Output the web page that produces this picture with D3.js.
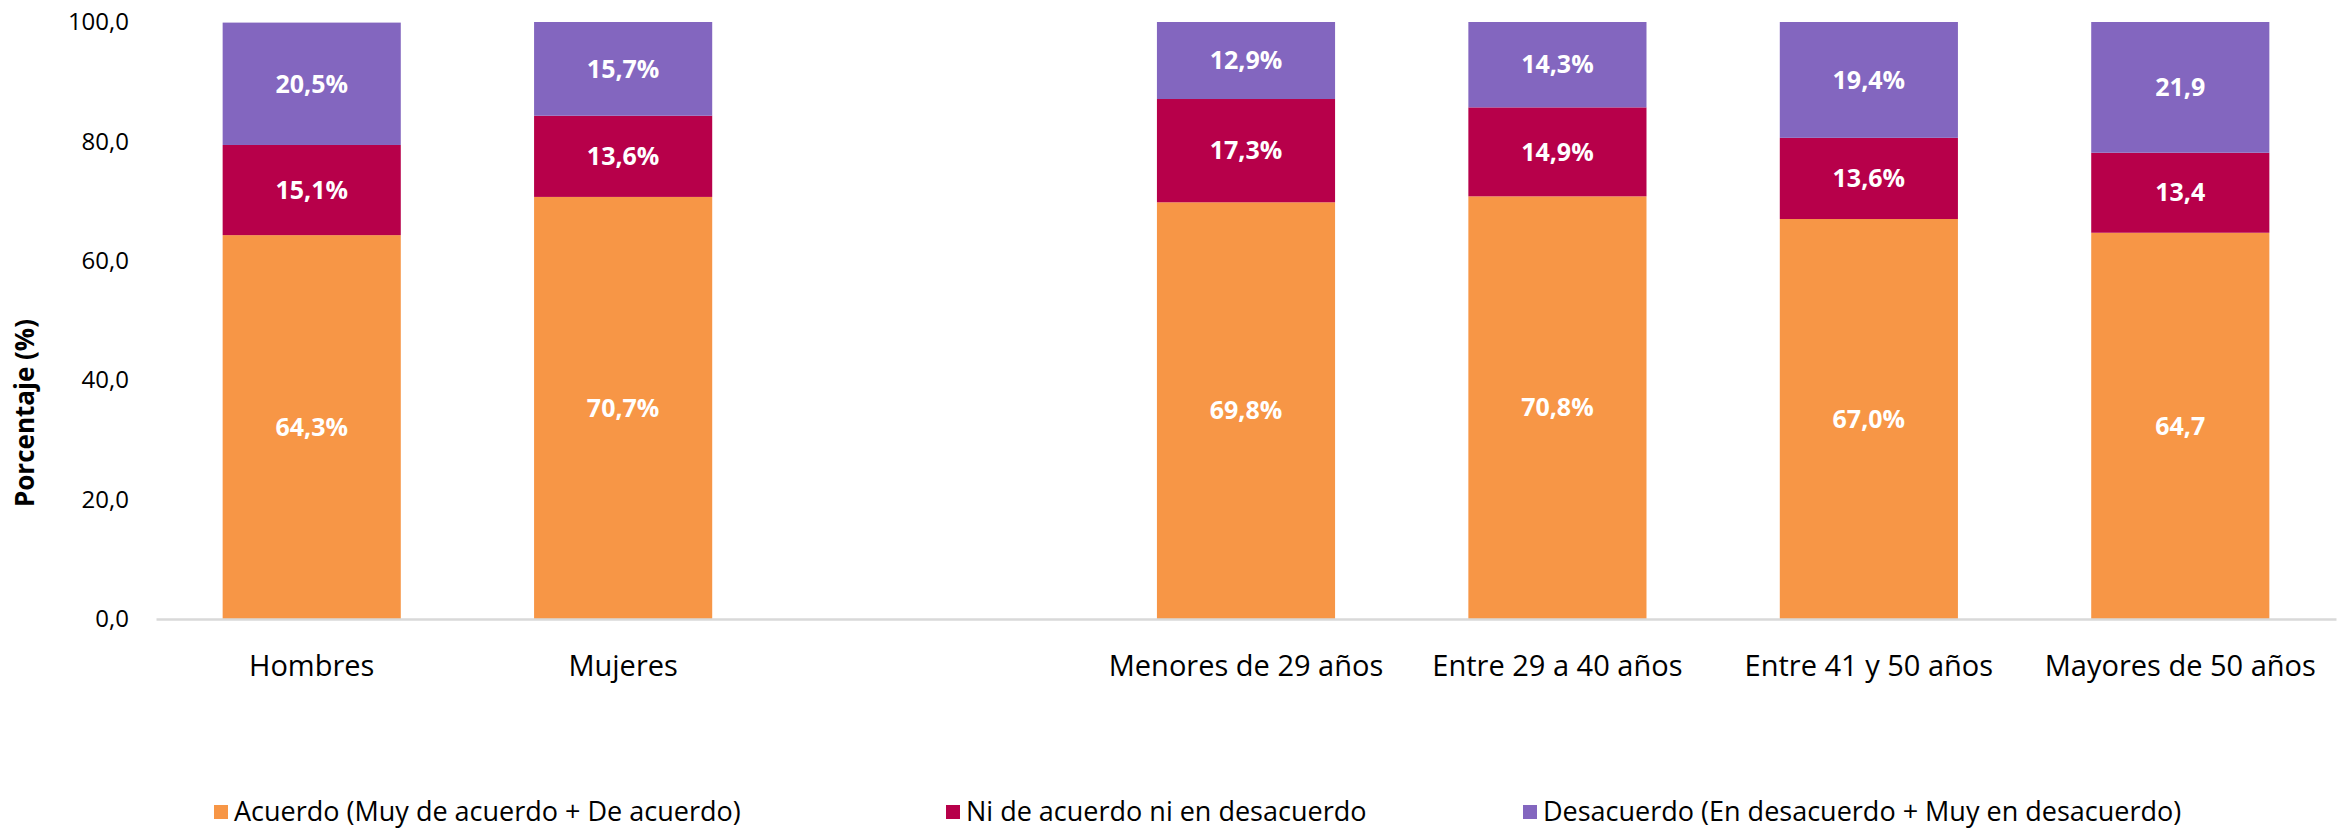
<!DOCTYPE html>
<html>
<head>
<meta charset="utf-8">
<script src="https://cdn.jsdelivr.net/npm/d3@7"></script>
<style>
  body { margin: 0; background: #fff; }
  text { font-family: "Open Sans", sans-serif; }
</style>
</head>
<body>
<div class="chart-container"></div>
<script>
const categories = ["Hombres", "Mujeres", "", "Menores de 29 años", "Entre 29 a 40 años", "Entre 41 y 50 años", "Mayores de 50 años"];
const seriesNames = ["Acuerdo (Muy de acuerdo + De acuerdo)", "Ni de acuerdo ni en desacuerdo", "Desacuerdo (En desacuerdo + Muy en desacuerdo)"];
const acuerdo = [64.3, 70.7, null, 69.8, 70.8, 67.0, 64.7];
const neutral = [15.1, 13.6, null, 17.3, 14.9, 13.6, 13.4];
const desacuerdo = [20.5, 15.7, null, 12.9, 14.3, 19.4, 21.9];
const acuerdoLabels = ["64,3%", "70,7%", "", "69,8%", "70,8%", "67,0%", "64,7"];
const neutralLabels = ["15,1%", "13,6%", "", "17,3%", "14,9%", "13,6%", "13,4"];
const desacuerdoLabels = ["20,5%", "15,7%", "", "12,9%", "14,3%", "19,4%", "21,9"];
const yTicks = [0, 20, 40, 60, 80, 100];
const colors = ["#F79646", "#B7004A", "#8366BF"];

function drawStackedChart() {
    const width = 2351,
        height = 828;
    const margin = { top: 22, right: 15, bottom: 209, left: 156 };

    const svg = d3.select(".chart-container").append("svg")
        .attr("width", width)
        .attr("height", height)
        .style("background", "#fff");

    const locale = d3.formatLocale({ decimal: ",", thousands: ".", grouping: [3], currency: ["", "€"] });
    const fmt = locale.format(".1f");

    const labels = [acuerdoLabels, neutralLabels, desacuerdoLabels];

    const data = categories.map((c, i) => ({
        name: c,
        acuerdo: acuerdo[i],
        neutral: neutral[i],
        desacuerdo: desacuerdo[i],
        idx: i
    })).filter(d => d.acuerdo != null);

    const stack = d3.stack().keys(["acuerdo", "neutral", "desacuerdo"]);
    const stacked = stack(data);

    const x = d3.scaleBand()
        .domain(categories)
        .range([margin.left, width - margin.right])
        .paddingInner(0.428)
        .paddingOuter(0.214);

    const y = d3.scaleLinear()
        .domain([0, 100])
        .range([height - margin.bottom, margin.top]);

    // bars
    const layers = svg.append("g").selectAll("g")
        .data(stacked)
        .enter()
        .append("g")
            .attr("fill", (d, i) => colors[i]);

    layers.selectAll("rect")
        .data(d => d)
        .enter()
        .append("rect")
            .attr("x", d => x(d.data.name))
            .attr("y", d => y(d[1]))
            .attr("height", d => y(d[0]) - y(d[1]))
            .attr("width", x.bandwidth());

    // data labels
    stacked.forEach((layer, k) => {
        svg.append("g").selectAll("text")
            .data(layer)
            .enter()
            .append("text")
                .attr("x", d => x(d.data.name) + x.bandwidth() / 2)
                .attr("y", d => y((d[0] + d[1]) / 2))
                .attr("dy", "0.35em")
                .attr("text-anchor", "middle")
                .attr("fill", "#fff")
                .style("font-size", "25px")
                .style("font-weight", "700")
                .text(d => labels[k][d.data.idx]);
    });

    // x axis
    const xAxis = g =>
        g.attr("transform", `translate(0, ${height - margin.bottom})`)
        .call(d3.axisBottom(x).tickSize(0).tickSizeOuter(0));

    const gx = svg.append("g").call(xAxis);
    gx.select(".domain").attr("stroke", "#d9d9d9").attr("stroke-width", 2.5);
    gx.selectAll("text")
        .attr("y", 57)
        .attr("dy", 0)
        .attr("fill", "#000")
        .style("font-family", "'Open Sans', sans-serif")
        .style("font-size", "29px");

    // y axis
    const yAxis = g =>
        g.attr("transform", `translate(129, 0)`)
        .call(d3.axisLeft(y).tickValues(yTicks).tickFormat(fmt).tickSize(0).tickPadding(0));

    const gy = svg.append("g").call(yAxis);
    gy.select(".domain").remove();
    gy.selectAll("text")
        .attr("fill", "#000")
        .style("font-family", "'Open Sans', sans-serif")
        .style("font-size", "24px");

    svg.append("text")
        .attr("transform", `translate(25, 413) rotate(-90)`)
        .attr("text-anchor", "middle")
        .attr("dy", "0.35em")
        .style("font-size", "26px")
        .style("font-weight", "700")
        .text("Porcentaje (%)");

    // legend
    const legendX = [214, 946, 1523];
    const legend = svg.append("g").selectAll("g")
        .data(seriesNames)
        .enter()
        .append("g")
            .attr("transform", (d, i) => `translate(${legendX[i]}, 812)`);

    legend.append("rect")
        .attr("x", 0)
        .attr("y", -7)
        .attr("width", 14)
        .attr("height", 14)
        .attr("fill", (d, i) => colors[i]);

    legend.append("text")
        .attr("x", 20)
        .attr("dy", "0.35em")
        .attr("fill", "#000")
        .style("font-size", "27px")
        .text(d => d);
}

drawStackedChart();
</script>
</body>
</html>
